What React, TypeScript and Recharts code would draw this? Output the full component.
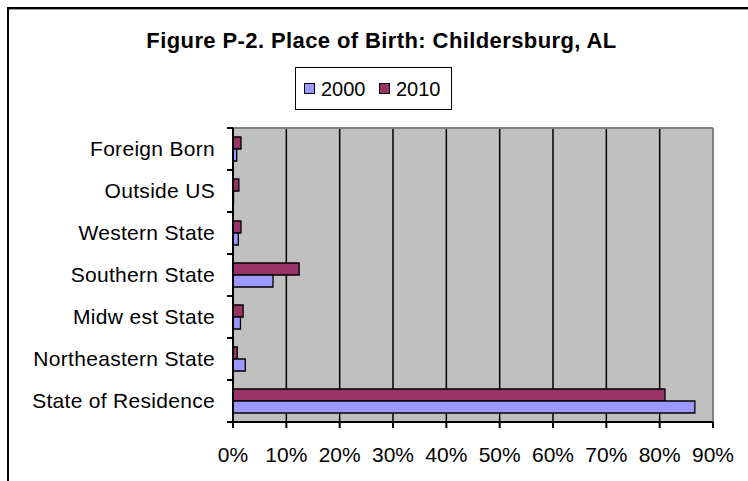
import React from 'react';
import {
  BarChart,
  Bar,
  XAxis,
  YAxis,
  CartesianGrid,
  ReferenceLine,
  Legend,
} from 'recharts';

const categories = [
  'Foreign Born',
  'Outside US',
  'Western State',
  'Southern State',
  'Midw est State',
  'Northeastern State',
  'State of Residence',
];
const values2000 = [0.7, 0.1, 1.0, 7.5, 1.4, 2.3, 86.6];
const values2010 = [1.5, 1.1, 1.5, 12.4, 1.9, 0.8, 81.0];
const xTicks = [0, 10, 20, 30, 40, 50, 60, 70, 80, 90];
const legendOrder = ['2000', '2010'];
const title = 'Figure P-2. Place of Birth: Childersburg, AL';

const data = categories.map((c, i) => ({
  name: c,
  y2000: values2000[i],
  y2010: values2010[i],
}));

const FONT = '"Liberation Sans", Arial, Helvetica, sans-serif';
const COLOR_2000 = '#9999FF';
const COLOR_2010 = '#993366';
const Y_TICK_SIZE = 6;
const Y_TICK_MARGIN = 12;

// Category label plus a tick mark at each category boundary (Excel style)
const CategoryTick = (props: any) => {
  const { x, y, payload, index, visibleTicksCount } = props;
  const half = payload && typeof payload.offset === 'number' ? payload.offset : 0;
  const axisX = Number(x) + Y_TICK_SIZE + Y_TICK_MARGIN;
  const isLast = index === visibleTicksCount - 1;
  return (
    <g>
      <text
        x={x}
        y={y}
        dy="0.355em"
        textAnchor="end"
        fill="#000"
        fontSize={21}
        fontFamily={FONT}
        letterSpacing={0.3}
      >
        {payload.value}
      </text>
      <line x1={axisX - Y_TICK_SIZE} x2={axisX} y1={y - half} y2={y - half} stroke="#000" strokeWidth={2} />
      {isLast && (
        <line x1={axisX - Y_TICK_SIZE} x2={axisX} y1={y + half} y2={y + half} stroke="#000" strokeWidth={2} />
      )}
    </g>
  );
};

const renderLegend = (props: any) => {
  const items = [...(props.payload || [])].sort(
    (a: any, b: any) => legendOrder.indexOf(String(a.value)) - legendOrder.indexOf(String(b.value))
  );
  return (
    <div
      style={{
        display: 'inline-flex',
        alignItems: 'center',
        boxSizing: 'border-box',
        height: 43,
        width: 157,
        border: '1.5px solid #000',
        background: '#fff',
        paddingLeft: 7.5,
        fontFamily: FONT,
        fontSize: 20,
        color: '#000',
      }}
    >
      {items.map((it: any, i: number) => (
        <span
          key={it.value}
          style={{ display: 'inline-flex', alignItems: 'center', marginLeft: i === 0 ? 0 : 13 }}
        >
          <span
            style={{
              display: 'inline-block',
              boxSizing: 'border-box',
              width: 11,
              height: 11,
              background: it.color,
              border: '1.3px solid #000',
              marginRight: 6.5,
            }}
          />
          <span style={{ lineHeight: '20px' }}>{it.value}</span>
        </span>
      ))}
    </div>
  );
};

export default function App() {
  return (
    <div
      style={{
        position: 'absolute',
        left: 0,
        top: 0,
        width: 748,
        height: 481,
        overflow: 'hidden',
        background: '#fff',
      }}
    >
      <div style={{ position: 'absolute', left: 7, top: 7, width: 741, height: 2, background: '#000' }} />
      <div style={{ position: 'absolute', left: 7, top: 7, width: 2, height: 474, background: '#000' }} />
      <div style={{ position: 'absolute', left: 9, top: 9, width: 739, height: 1, background: '#a0a0a0' }} />
      <div
        style={{
          position: 'absolute',
          left: 0,
          top: 29.7,
          width: 763,
          textAlign: 'center',
          whiteSpace: 'nowrap',
          fontFamily: FONT,
          fontWeight: 'bold',
          fontSize: 22,
          lineHeight: '22px',
          letterSpacing: 0.4,
          color: '#000',
        }}
      >
        {title}
      </div>
      <div style={{ position: 'absolute', left: 0, top: 0 }}>
        <BarChart
          width={748}
          height={481}
          data={data}
          layout="vertical"
          margin={{ top: 128, right: 35, bottom: 19, left: 0 }}
          barSize={12}
          barGap={0}
        >
          <CartesianGrid
            horizontal={false}
            stroke="#000"
            strokeWidth={1.5}
            fill="#C0C0C0"
            fillOpacity={1}
          />
          <YAxis
            type="category"
            dataKey="name"
            orientation="left"
            width={233}
            axisLine={{ stroke: '#000', strokeWidth: 2 }}
            tickLine={false}
            tickSize={Y_TICK_SIZE}
            tickMargin={Y_TICK_MARGIN}
            interval={0}
            tick={<CategoryTick />}
          />
          <XAxis
            type="number"
            domain={[0, 90]}
            ticks={xTicks}
            interval={0}
            height={40}
            tickFormatter={(v: number) => `${v}%`}
            tickSize={6}
            tickMargin={19}
            axisLine={{ stroke: '#000', strokeWidth: 2 }}
            tickLine={{ stroke: '#000', strokeWidth: 2 }}
            tick={{ fill: '#000', fontSize: 21, fontFamily: FONT }}
            allowDataOverflow
          />
          <ReferenceLine x={90} stroke="#808080" strokeWidth={2} />
          <ReferenceLine y="Foreign Born" position="start" stroke="#808080" strokeWidth={2} />
          <Legend
            layout="horizontal"
            verticalAlign="middle"
            align="center"
            content={renderLegend}
            wrapperStyle={{ left: 295, top: 67, width: 157, height: 43 }}
          />
          <Bar
            dataKey="y2010"
            name="2010"
            fill={COLOR_2010}
            stroke="#000"
            strokeWidth={1.3}
            isAnimationActive={false}
          />
          <Bar
            dataKey="y2000"
            name="2000"
            fill={COLOR_2000}
            stroke="#000"
            strokeWidth={1.3}
            isAnimationActive={false}
          />
        </BarChart>
      </div>
    </div>
  );
}
